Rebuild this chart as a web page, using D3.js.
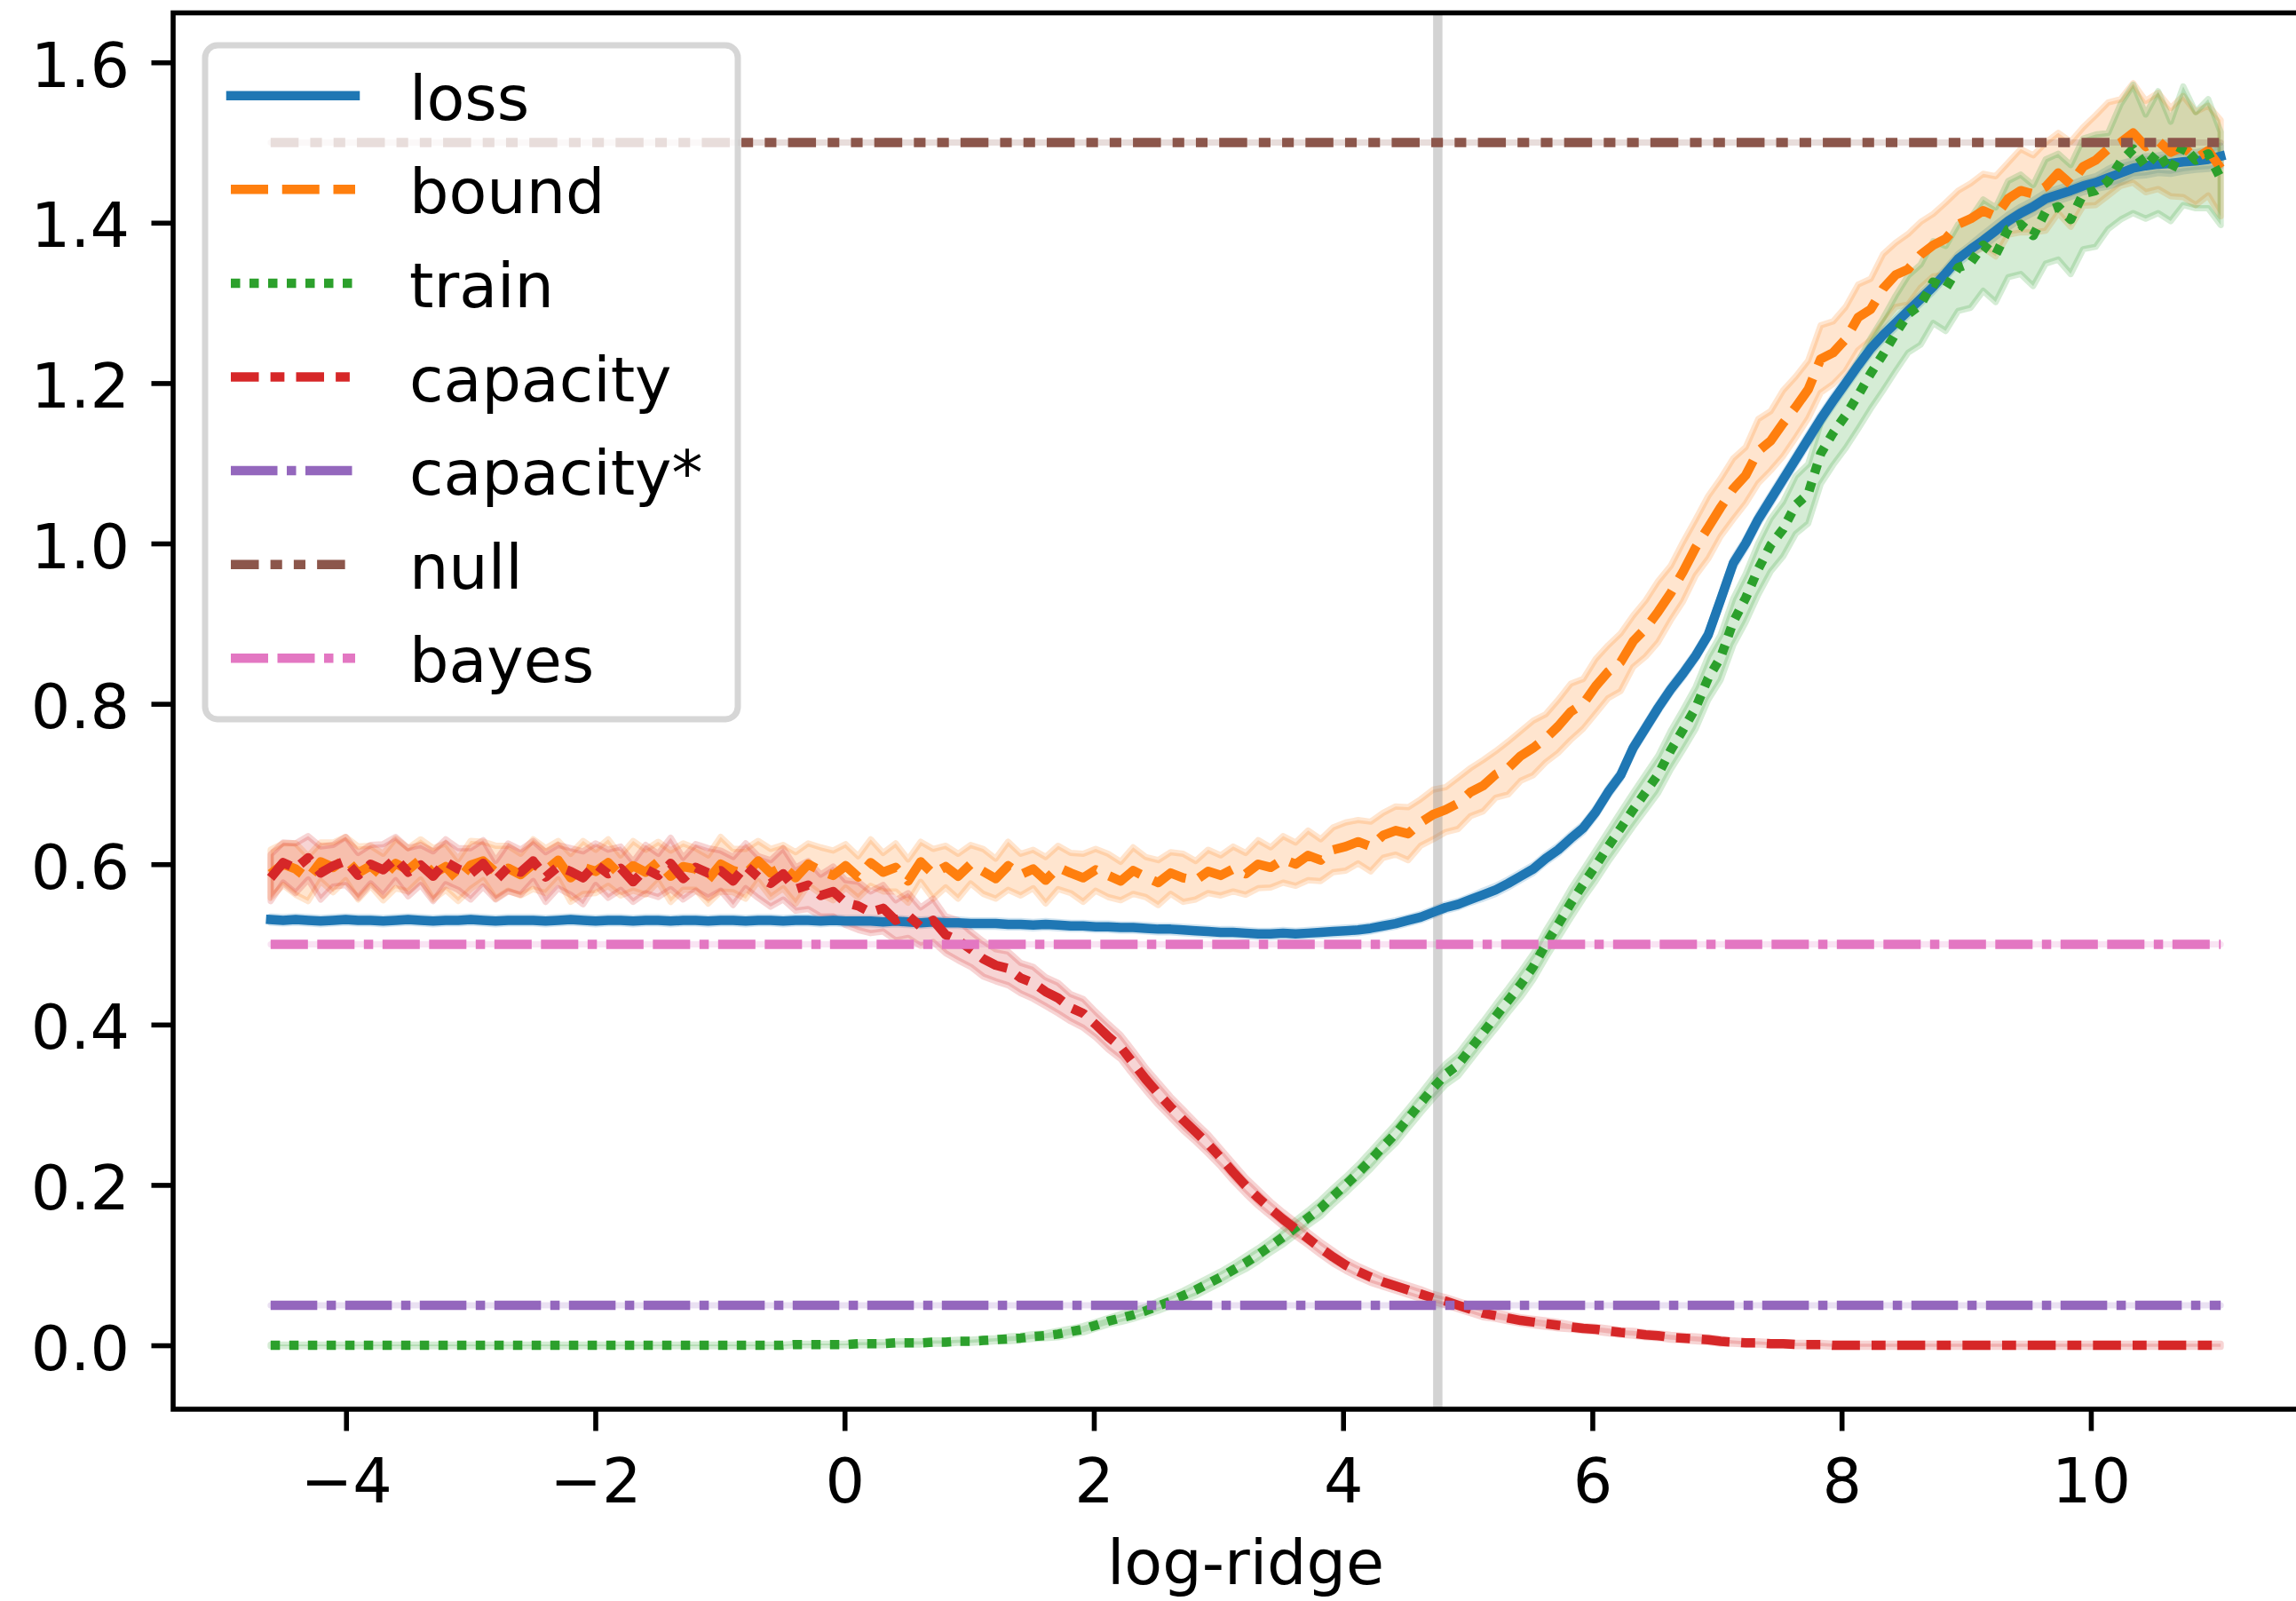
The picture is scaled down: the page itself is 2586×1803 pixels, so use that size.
<!DOCTYPE html>
<html lang="en">
<head>
	<title>log-ridge</title>
	<meta charset="utf-8">
	<script src="https://d3js.org/d3.v7.min.js"></script>
	<style type="text/css">
		body {
			margin: 0;
			background: #fff;
		}

		svg {
			display: block;
			font-family: "DejaVu Sans", sans-serif;
		}

		.tick text,
		.legend text,
		.axis-label {
			font-family: "DejaVu Sans", sans-serif;
			font-size: 70px;
			fill: #000;
		}

		.tick line {
			stroke: #000;
		}
	</style>
</head>
<body>

	<div id="vis"></div>

	<script type="text/javascript">

		/* Data */
		/* ==== */

		// x grid: log-ridge values, one per sample
		const X_START = -4.605;
		const X_STEP = 0.1003;

		const seriesNames = ['loss', 'bound', 'train', 'capacity', 'capacity*', 'null', 'bayes'];

		// blocks of 10 samples (x -4.6..-3.7, -3.6..-2.7, ... ; 5th block has 7)
		const lossMean = [
			0.531, 0.530, 0.531, 0.530, 0.529, 0.530, 0.531, 0.530, 0.530, 0.529,
			0.530, 0.531, 0.530, 0.529, 0.530, 0.530, 0.531, 0.530, 0.529, 0.530,
			0.530, 0.530, 0.529, 0.530, 0.531, 0.530, 0.529, 0.530, 0.530, 0.529,
			0.530, 0.530, 0.529, 0.530, 0.530, 0.529, 0.530, 0.530, 0.529, 0.530,
			0.530, 0.529, 0.530, 0.530, 0.529, 0.530, 0.529,
			0.529, 0.529, 0.528, 0.529, 0.528, 0.527, 0.528, 0.527, 0.527, 0.526,
			0.526, 0.526, 0.525, 0.525, 0.524, 0.525, 0.524, 0.523, 0.523, 0.522,
			0.522, 0.521, 0.521, 0.520, 0.519, 0.519, 0.518, 0.517, 0.516, 0.515,
			0.515, 0.514, 0.513, 0.513, 0.514, 0.513, 0.514, 0.515, 0.516, 0.517,
			0.518, 0.520, 0.523, 0.526, 0.530, 0.534, 0.540, 0.546, 0.550, 0.556,
			0.562, 0.568, 0.576, 0.585, 0.594, 0.607, 0.618, 0.632, 0.645, 0.665,
			0.690, 0.711, 0.745, 0.770, 0.795, 0.818, 0.838, 0.860, 0.886, 0.930,
			0.975, 1.000, 1.030, 1.055, 1.080, 1.105, 1.130, 1.155, 1.178, 1.200,
			1.222, 1.243, 1.260, 1.275, 1.290, 1.305, 1.320, 1.337, 1.355, 1.367,
			1.378, 1.390, 1.402, 1.412, 1.420, 1.430, 1.435, 1.440, 1.446, 1.450,
			1.456, 1.462, 1.468, 1.471, 1.473, 1.474, 1.476, 1.477, 1.479, 1.483
		];

		const lossSpread = [
			0.004, 0.004, 0.004, 0.004, 0.004, 0.004, 0.004, 0.004, 0.004, 0.004,
			0.004, 0.004, 0.004, 0.004, 0.004, 0.004, 0.004, 0.004, 0.004, 0.004,
			0.004, 0.004, 0.004, 0.004, 0.004, 0.004, 0.004, 0.004, 0.004, 0.004,
			0.004, 0.004, 0.004, 0.004, 0.004, 0.004, 0.004, 0.004, 0.004, 0.004,
			0.004, 0.004, 0.004, 0.004, 0.004, 0.004, 0.004,
			0.004, 0.004, 0.004, 0.004, 0.004, 0.004, 0.004, 0.004, 0.004, 0.004,
			0.004, 0.004, 0.004, 0.004, 0.004, 0.004, 0.004, 0.004, 0.004, 0.004,
			0.004, 0.004, 0.004, 0.004, 0.004, 0.004, 0.004, 0.004, 0.004, 0.004,
			0.004, 0.004, 0.004, 0.004, 0.004, 0.004, 0.004, 0.004, 0.004, 0.004,
			0.004, 0.004, 0.004, 0.004, 0.004, 0.004, 0.004, 0.004, 0.004, 0.004,
			0.005, 0.005, 0.005, 0.005, 0.005, 0.005, 0.005, 0.005, 0.005, 0.005,
			0.005, 0.005, 0.005, 0.005, 0.005, 0.005, 0.005, 0.005, 0.005, 0.005,
			0.006, 0.006, 0.006, 0.006, 0.006, 0.006, 0.006, 0.006, 0.006, 0.006,
			0.006, 0.006, 0.006, 0.006, 0.006, 0.006, 0.006, 0.006, 0.006, 0.006,
			0.008, 0.008, 0.008, 0.008, 0.008, 0.008, 0.008, 0.008, 0.008, 0.008,
			0.011, 0.012, 0.010, 0.012, 0.011, 0.013, 0.012, 0.011, 0.012, 0.013
		];

		const boundMean = [
			0.588, 0.600, 0.594, 0.582, 0.603, 0.596, 0.607, 0.589, 0.598, 0.584,
			0.601, 0.593, 0.606, 0.588, 0.597, 0.580, 0.599, 0.604, 0.590, 0.595,
			0.587, 0.600, 0.592, 0.605, 0.583, 0.596, 0.591, 0.602, 0.586, 0.598,
			0.590, 0.603, 0.585, 0.597, 0.594, 0.581, 0.600, 0.592, 0.588, 0.604,
			0.589, 0.597, 0.583, 0.600, 0.592, 0.586, 0.598,
			0.584, 0.602, 0.590, 0.596, 0.579, 0.603, 0.588, 0.597, 0.585, 0.600,
			0.591, 0.582, 0.598, 0.587, 0.594, 0.580, 0.596, 0.589, 0.583, 0.593,
			0.586, 0.579, 0.592, 0.584, 0.577, 0.589, 0.583, 0.580, 0.591, 0.586,
			0.594, 0.588, 0.600, 0.596, 0.606, 0.600, 0.611, 0.605, 0.618, 0.622,
			0.628, 0.622, 0.636, 0.642, 0.638, 0.652, 0.662, 0.668, 0.676, 0.690,
			0.698, 0.712, 0.720, 0.735, 0.745, 0.757, 0.772, 0.790, 0.800, 0.822,
			0.840, 0.852, 0.878, 0.894, 0.915, 0.938, 0.965, 0.995, 1.020, 1.045,
			1.068, 1.085, 1.115, 1.128, 1.150, 1.170, 1.192, 1.230, 1.238, 1.255,
			1.282, 1.292, 1.318, 1.335, 1.342, 1.360, 1.372, 1.380, 1.398, 1.405,
			1.415, 1.408, 1.430, 1.440, 1.436, 1.445, 1.462, 1.448, 1.470, 1.478,
			1.492, 1.500, 1.512, 1.495, 1.502, 1.488, 1.495, 1.480, 1.490, 1.468
		];

		const boundSpread = [
			0.030, 0.026, 0.032, 0.028, 0.024, 0.031, 0.027, 0.033, 0.025, 0.029,
			0.031, 0.027, 0.025, 0.032, 0.029, 0.026, 0.030, 0.024, 0.033, 0.028,
			0.026, 0.031, 0.028, 0.024, 0.030, 0.033, 0.027, 0.029, 0.025, 0.031,
			0.028, 0.025, 0.032, 0.029, 0.026, 0.030, 0.034, 0.027, 0.031, 0.025,
			0.030, 0.027, 0.032, 0.026, 0.029, 0.031, 0.027,
			0.026, 0.029, 0.024, 0.030, 0.027, 0.025, 0.031, 0.026, 0.028, 0.024,
			0.028, 0.025, 0.030, 0.026, 0.024, 0.029, 0.027, 0.025, 0.030, 0.026,
			0.027, 0.024, 0.029, 0.025, 0.028, 0.026, 0.030, 0.024, 0.027, 0.025,
			0.028, 0.026, 0.030, 0.025, 0.029, 0.027, 0.031, 0.026, 0.028, 0.030,
			0.027, 0.031, 0.028, 0.030, 0.033, 0.029, 0.031, 0.028, 0.032, 0.030,
			0.032, 0.029, 0.033, 0.031, 0.034, 0.030, 0.033, 0.035, 0.031, 0.034,
			0.033, 0.036, 0.032, 0.035, 0.038, 0.034, 0.037, 0.035, 0.039, 0.036,
			0.038, 0.035, 0.040, 0.037, 0.041, 0.038, 0.036, 0.042, 0.039, 0.040,
			0.041, 0.038, 0.043, 0.040, 0.044, 0.041, 0.039, 0.045, 0.042, 0.044,
			0.046, 0.050, 0.045, 0.052, 0.048, 0.055, 0.050, 0.053, 0.049, 0.056,
			0.058, 0.054, 0.062, 0.057, 0.060, 0.055, 0.063, 0.058, 0.056, 0.060
		];

		const trainMean = [
			0.000, 0.000, 0.000, 0.000, 0.000, 0.000, 0.000, 0.000, 0.000, 0.000,
			0.000, 0.000, 0.000, 0.000, 0.000, 0.000, 0.000, 0.000, 0.000, 0.000,
			0.000, 0.000, 0.000, 0.000, 0.000, 0.000, 0.000, 0.000, 0.000, 0.000,
			0.000, 0.000, 0.000, 0.000, 0.000, 0.000, 0.000, 0.000, 0.000, 0.000,
			0.000, 0.000, 0.001, 0.001, 0.001, 0.001, 0.001,
			0.002, 0.002, 0.002, 0.003, 0.003, 0.003, 0.004, 0.004, 0.005, 0.005,
			0.006, 0.007, 0.008, 0.009, 0.011, 0.012, 0.014, 0.017, 0.020, 0.025,
			0.030, 0.034, 0.038, 0.043, 0.049, 0.055, 0.062, 0.069, 0.077, 0.085,
			0.094, 0.103, 0.113, 0.124, 0.135, 0.147, 0.159, 0.171, 0.186, 0.200,
			0.215, 0.231, 0.248, 0.264, 0.283, 0.302, 0.321, 0.338, 0.350, 0.370,
			0.390, 0.410, 0.430, 0.450, 0.472, 0.500, 0.525, 0.551, 0.575, 0.598,
			0.622, 0.645, 0.668, 0.690, 0.712, 0.742, 0.768, 0.795, 0.832, 0.858,
			0.902, 0.932, 0.968, 0.998, 1.018, 1.048, 1.062, 1.112, 1.138, 1.160,
			1.185, 1.212, 1.236, 1.262, 1.286, 1.298, 1.326, 1.318, 1.344, 1.350,
			1.372, 1.360, 1.392, 1.398, 1.384, 1.414, 1.420, 1.404, 1.436, 1.440,
			1.452, 1.476, 1.492, 1.470, 1.488, 1.464, 1.496, 1.478, 1.486, 1.455
		];

		const trainSpread = [
			0.001, 0.001, 0.001, 0.001, 0.001, 0.001, 0.001, 0.001, 0.001, 0.001,
			0.001, 0.001, 0.001, 0.001, 0.001, 0.001, 0.001, 0.001, 0.001, 0.001,
			0.001, 0.001, 0.001, 0.001, 0.001, 0.001, 0.001, 0.001, 0.001, 0.001,
			0.001, 0.001, 0.001, 0.001, 0.001, 0.001, 0.001, 0.001, 0.001, 0.001,
			0.001, 0.001, 0.001, 0.001, 0.001, 0.001, 0.001,
			0.002, 0.002, 0.002, 0.002, 0.002, 0.002, 0.002, 0.002, 0.002, 0.002,
			0.002, 0.002, 0.003, 0.003, 0.003, 0.003, 0.004, 0.004, 0.004, 0.004,
			0.004, 0.005, 0.005, 0.005, 0.006, 0.006, 0.006, 0.007, 0.007, 0.007,
			0.007, 0.008, 0.008, 0.008, 0.009, 0.009, 0.009, 0.010, 0.010, 0.010,
			0.010, 0.011, 0.011, 0.012, 0.012, 0.012, 0.013, 0.013, 0.014, 0.014,
			0.014, 0.015, 0.015, 0.016, 0.016, 0.017, 0.017, 0.018, 0.018, 0.019,
			0.019, 0.020, 0.021, 0.022, 0.023, 0.024, 0.025, 0.026, 0.027, 0.028,
			0.029, 0.030, 0.032, 0.033, 0.034, 0.036, 0.037, 0.038, 0.040, 0.041,
			0.042, 0.044, 0.045, 0.047, 0.048, 0.050, 0.051, 0.053, 0.054, 0.056,
			0.057, 0.059, 0.060, 0.062, 0.063, 0.065, 0.066, 0.068, 0.069, 0.070,
			0.060, 0.072, 0.080, 0.065, 0.076, 0.062, 0.074, 0.060, 0.068, 0.058
		];

		const capacityMean = [
			0.583, 0.602, 0.595, 0.608, 0.589, 0.598, 0.604, 0.586, 0.600, 0.593,
			0.607, 0.590, 0.599, 0.585, 0.603, 0.594, 0.588, 0.601, 0.580, 0.596,
			0.590, 0.604, 0.584, 0.597, 0.591, 0.583, 0.600, 0.588, 0.595, 0.578,
			0.594, 0.586, 0.601, 0.582, 0.596, 0.589, 0.592, 0.579, 0.598, 0.584,
			0.576, 0.588, 0.569, 0.574, 0.561, 0.566, 0.552,
			0.548, 0.540, 0.545, 0.530, 0.536, 0.522, 0.530, 0.512, 0.505, 0.494,
			0.482, 0.474, 0.470, 0.458, 0.452, 0.441, 0.433, 0.421, 0.414, 0.400,
			0.385, 0.372, 0.352, 0.332, 0.314, 0.297, 0.281, 0.266, 0.251, 0.234,
			0.216, 0.199, 0.184, 0.170, 0.157, 0.145, 0.133, 0.121, 0.110, 0.100,
			0.092, 0.085, 0.079, 0.074, 0.069, 0.064, 0.059, 0.055, 0.050, 0.045,
			0.040, 0.037, 0.034, 0.031, 0.029, 0.027, 0.025, 0.023, 0.021, 0.020,
			0.018, 0.016, 0.015, 0.013, 0.012, 0.010, 0.009, 0.008, 0.007, 0.005,
			0.004, 0.003, 0.003, 0.002, 0.002, 0.001, 0.001, 0.001, 0.000, 0.000,
			0.000, 0.000, 0.000, 0.000, 0.000, 0.000, 0.000, 0.000, 0.000, 0.000,
			0.000, 0.000, 0.000, 0.000, 0.000, 0.000, 0.000, 0.000, 0.000, 0.000,
			0.000, 0.000, 0.000, 0.000, 0.000, 0.000, 0.000, 0.000, 0.000, 0.000
		];

		const capacitySpread = [
			0.029, 0.025, 0.031, 0.027, 0.033, 0.026, 0.030, 0.028, 0.024, 0.032,
			0.027, 0.030, 0.025, 0.031, 0.028, 0.026, 0.032, 0.029, 0.024, 0.030,
			0.028, 0.025, 0.031, 0.027, 0.029, 0.033, 0.026, 0.030, 0.027, 0.025,
			0.030, 0.027, 0.032, 0.026, 0.029, 0.031, 0.025, 0.030, 0.028, 0.026,
			0.029, 0.032, 0.027, 0.030, 0.026, 0.031, 0.028,
			0.030, 0.026, 0.029, 0.025, 0.028, 0.024, 0.027, 0.023, 0.025, 0.022,
			0.022, 0.020, 0.021, 0.019, 0.020, 0.018, 0.019, 0.017, 0.018, 0.016,
			0.016, 0.015, 0.015, 0.014, 0.014, 0.013, 0.013, 0.012, 0.012, 0.011,
			0.011, 0.010, 0.010, 0.009, 0.009, 0.009, 0.008, 0.008, 0.008, 0.007,
			0.007, 0.007, 0.006, 0.006, 0.006, 0.006, 0.005, 0.005, 0.005, 0.005,
			0.005, 0.004, 0.004, 0.004, 0.004, 0.004, 0.004, 0.003, 0.003, 0.003,
			0.003, 0.003, 0.003, 0.003, 0.003, 0.003, 0.003, 0.003, 0.003, 0.003,
			0.002, 0.002, 0.002, 0.002, 0.002, 0.002, 0.002, 0.002, 0.002, 0.002,
			0.002, 0.002, 0.002, 0.002, 0.002, 0.002, 0.002, 0.002, 0.002, 0.002,
			0.002, 0.002, 0.002, 0.002, 0.002, 0.002, 0.002, 0.002, 0.002, 0.002,
			0.002, 0.002, 0.002, 0.002, 0.002, 0.002, 0.002, 0.002, 0.002, 0.002
		];

		// flat reference levels
		const capacityStarLevel = 0.05;
		const nullLevel = 1.5;
		const bayesLevel = 0.5;

		// marked log-ridge value
		const markerX = 4.76;

		// axes
		const xTicks = [-4, -2, 0, 2, 4, 6, 8, 10];
		const yTicks = [0, 0.2, 0.4, 0.6, 0.8, 1.0, 1.2, 1.4, 1.6];
		const yLimits = [-0.0797, 1.6617];


		function make() {

			/* Set up */
			/* ====== */

			var width = 2586,
				height = 1803;

			// axes box in page pixels (right spine falls just off the page)
			var box = { left: 195, top: 14.5, right: 2611, bottom: 1587 };

			var pt = 7;            // pixels per point
			var lw = 1.5 * pt;     // line width

			var svg = d3.select('#vis')
				.append('svg')
				.attr('width', width)
				.attr('height', height);

			svg.append('rect')
				.attr('width', width)
				.attr('height', height)
				.attr('fill', '#fff');

			var xs = lossMean.map(function (d, i) { return X_START + i * X_STEP; });


			/* Scales */
			/* ====== */

			var xExtent = d3.extent(xs);
			var xPad = (xExtent[1] - xExtent[0]) * 0.05;

			var xScale = d3.scaleLinear()
				.domain([xExtent[0] - xPad, xExtent[1] + xPad])
				.range([box.left, box.right]);

			var yScale = d3.scaleLinear()
				.domain(yLimits)
				.range([box.bottom, box.top]);


			/* Series */
			/* ------ */

			function banded(mean, spread) {
				return xs.map(function (x, i) {
					return { x: x, y: mean[i], lo: mean[i] - spread[i], hi: mean[i] + spread[i] };
				});
			}

			function flat(level) {
				return [xs[0], xs[xs.length - 1]].map(function (x) {
					return { x: x, y: level, lo: level, hi: level };
				});
			}

			var series = [
				{ name: seriesNames[0], color: '#1f77b4', dash: [], values: banded(lossMean, lossSpread) },
				{ name: seriesNames[1], color: '#ff7f0e', dash: [4, 1.5], values: banded(boundMean, boundSpread) },
				{ name: seriesNames[2], color: '#2ca02c', dash: [1, 1], values: banded(trainMean, trainSpread) },
				{ name: seriesNames[3], color: '#d62728', dash: [3, 1.25, 1.5, 1.25], values: banded(capacityMean, capacitySpread) },
				{ name: seriesNames[4], color: '#9467bd', dash: [5, 1, 1, 1], values: flat(capacityStarLevel) },
				{ name: seriesNames[5], color: '#8c564b', dash: [3, 1.25, 1.25, 1.25, 1.25, 1.25], values: flat(nullLevel) },
				{ name: seriesNames[6], color: '#e377c2', dash: [4, 1, 4, 1, 1, 1], values: flat(bayesLevel) }
			];

			function dashString(s) {
				return s.dash.length ? s.dash.map(function (d) { return d * lw; }).join(' ') : null;
			}


			/* Build vis */
			/* ========= */

			// confidence bands (drawn under all lines)
			var area = d3.area()
				.x(function (d) { return xScale(d.x); })
				.y0(function (d) { return yScale(d.lo); })
				.y1(function (d) { return yScale(d.hi); });

			svg.append('g').attr('class', 'bands')
				.selectAll('path')
				.data(series).enter()
				.append('path')
				.attr('d', function (d) { return area(d.values); })
				.attr('fill', function (d) { return d.color; })
				.attr('fill-opacity', 0.2)
				.attr('stroke', function (d) { return d.color; })
				.attr('stroke-opacity', 0.2)
				.attr('stroke-width', pt)
				.attr('stroke-linejoin', 'round');

			// vertical marker
			svg.append('line')
				.attr('x1', xScale(markerX))
				.attr('x2', xScale(markerX))
				.attr('y1', box.top)
				.attr('y2', box.bottom)
				.attr('stroke', '#808080')
				.attr('stroke-opacity', 0.35)
				.attr('stroke-width', lw);

			var line = d3.line()
				.x(function (d) { return xScale(d.x); })
				.y(function (d) { return yScale(d.y); });

			svg.append('g').attr('class', 'lines')
				.selectAll('path')
				.data(series).enter()
				.append('path')
				.attr('d', function (d) { return line(d.values); })
				.attr('fill', 'none')
				.attr('stroke', function (d) { return d.color; })
				.attr('stroke-width', lw)
				.attr('stroke-linejoin', 'round')
				.attr('stroke-linecap', function (d) { return d.dash.length ? 'butt' : 'square'; })
				.attr('stroke-dasharray', dashString);


			/* Axes */
			/* ---- */

			var xAxis = d3.axisBottom(xScale)
				.tickValues(xTicks)
				.tickFormat(d3.format('d'))
				.tickSize(3.5 * pt)
				.tickSizeOuter(0);

			var gx = svg.append('g')
				.attr('class', 'x axis')
				.attr('transform', 'translate(0,' + box.bottom + ')')
				.call(xAxis)
				.attr('font-size', null)
				.attr('font-family', null);

			gx.select('.domain').remove();
			gx.selectAll('.tick line').attr('stroke-width', 0.8 * pt);
			gx.selectAll('.tick text')
				.attr('y', 105)
				.attr('dy', 0);

			var yAxis = d3.axisLeft(yScale)
				.tickValues(yTicks)
				.tickFormat(d3.format('.1f'))
				.tickSize(3.5 * pt)
				.tickSizeOuter(0);

			var gy = svg.append('g')
				.attr('class', 'y axis')
				.attr('transform', 'translate(' + box.left + ',0)')
				.call(yAxis)
				.attr('font-size', null)
				.attr('font-family', null);

			gy.select('.domain').remove();
			gy.selectAll('.tick line').attr('stroke-width', 0.8 * pt);
			gy.selectAll('.tick text')
				.attr('x', -7 * pt)
				.attr('dy', 27);

			// spines
			svg.append('rect')
				.attr('x', box.left)
				.attr('y', box.top)
				.attr('width', box.right - box.left)
				.attr('height', box.bottom - box.top)
				.attr('fill', 'none')
				.attr('stroke', '#000')
				.attr('stroke-width', 0.8 * pt);

			// kept just inside the page so the descenders are not clipped
			svg.append('text')
				.attr('class', 'axis-label')
				.attr('x', (box.left + box.right) / 2)
				.attr('y', 1784)
				.attr('text-anchor', 'middle')
				.text('log-ridge');


			/* Legend */
			/* ------ */

			var legend = svg.append('g').attr('class', 'legend');

			legend.append('rect')
				.attr('x', 231)
				.attr('y', 51)
				.attr('width', 600)
				.attr('height', 759)
				.attr('rx', 14)
				.attr('fill', '#fff')
				.attr('fill-opacity', 0.8)
				.attr('stroke', '#ccc')
				.attr('stroke-opacity', 0.8)
				.attr('stroke-width', pt);

			var rowH = 105.6;
			var entries = legend.selectAll('.entry')
				.data(series).enter()
				.append('g')
				.attr('class', 'entry')
				.attr('transform', function (d, i) { return 'translate(0,' + (107.7 + i * rowH) + ')'; });

			entries.append('line')
				.attr('x1', 260)
				.attr('x2', 400)
				.attr('stroke', function (d) { return d.color; })
				.attr('stroke-width', lw)
				.attr('stroke-linecap', function (d) { return d.dash.length ? 'butt' : 'square'; })
				.attr('stroke-dasharray', dashString);

			entries.append('text')
				.attr('x', 461)
				.attr('y', 27)
				.text(function (d) { return d.name; });

		} // make()

		make();

	</script>

</body>
</html>
